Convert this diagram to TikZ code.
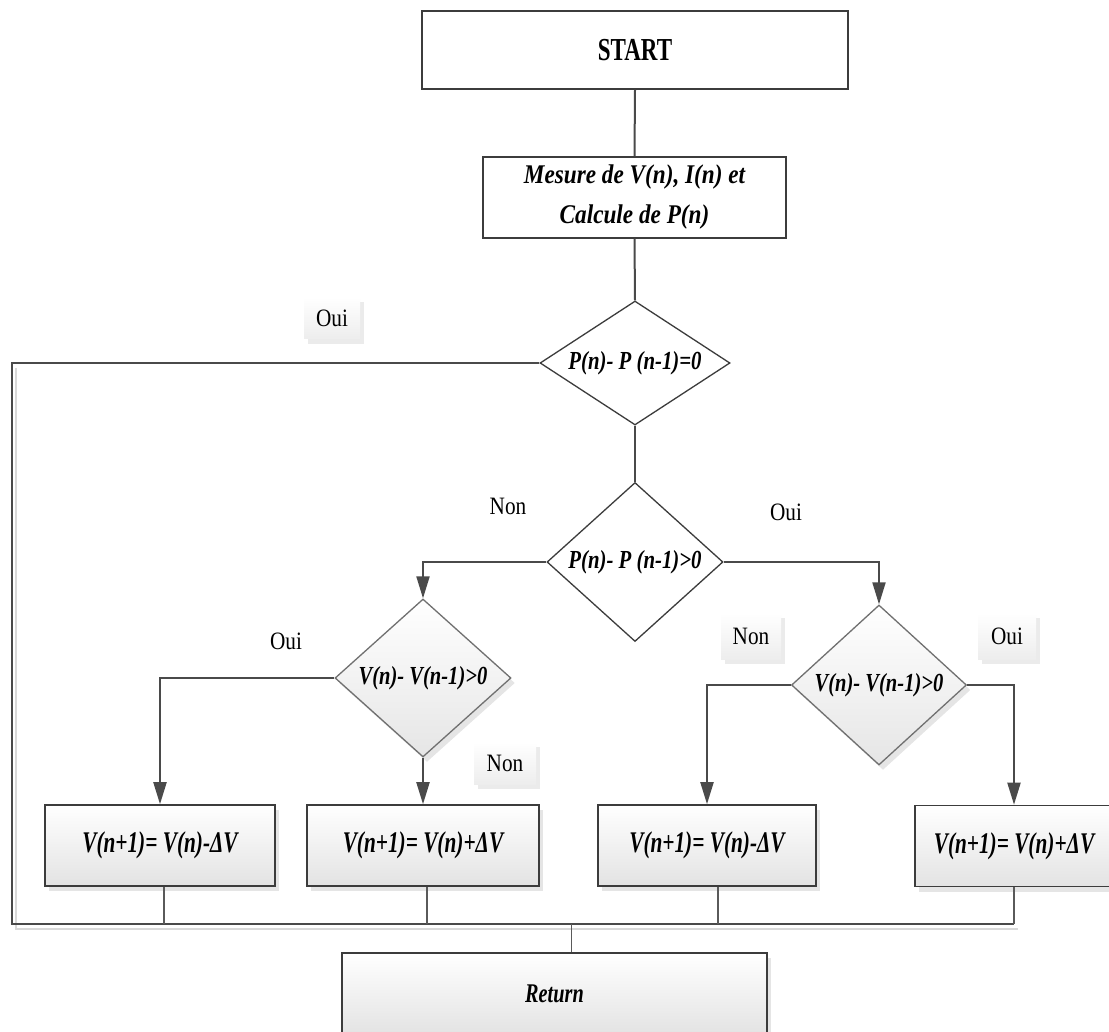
\documentclass[tikz,border=0pt]{standalone}
\usepackage{fontspec}
\setmainfont{Liberation Serif}
\usepackage{graphicx}
\usetikzlibrary{shapes.geometric,arrows.meta,shadows}
\newcommand\sqz[2]{\scalebox{#1}[1]{#2}}
\definecolor{lnc}{HTML}{4A4A4A}
\definecolor{thinc}{HTML}{5A5A5A}
\definecolor{brd}{HTML}{3C3C3C}
\definecolor{dbrd}{HTML}{707070}
\begin{document}
\begin{tikzpicture}[x=1pt,y=-1pt,
  plainbox/.style={draw=brd,line width=1.5pt,fill=white,inner sep=0pt},
  gbox/.style={draw=brd,line width=1.6pt,top color=white,bottom color=black!11,inner sep=0pt,
    drop shadow={shadow xshift=4pt,shadow yshift=-5pt,fill=black,opacity=0.10}},
  wdia/.style={diamond,draw=brd,line width=1.3pt,fill=white,inner sep=0pt},
  gdia/.style={diamond,draw=dbrd,line width=1.3pt,top color=white,bottom color=black!10,inner sep=0pt,
    drop shadow={shadow xshift=4pt,shadow yshift=-5pt,fill=black,opacity=0.10}},
  dtxt/.style={font=\fontsize{26}{30}\selectfont\bfseries\itshape,inner sep=0pt},
  btxt/.style={font=\fontsize{30}{34}\selectfont\bfseries\itshape},
  lbl/.style={font=\fontsize{25}{28}\selectfont,inner sep=0pt},
  lblbox/.style={lbl,top color=white,bottom color=black!7,minimum width=56pt,minimum height=42pt,
    drop shadow={shadow xshift=4pt,shadow yshift=-5pt,fill=black,opacity=0.08}},
  conn/.style={draw=lnc,line width=2pt},
  arr/.style={conn,-{Triangle[width=13pt,length=22pt]}},
  thinln/.style={draw=thinc,line width=1.2pt}]
\fill[white] (0,0) rectangle (1109,1032);
\useasboundingbox (0,0) rectangle (1109,1032);

% nodes
\node[plainbox,minimum width=426pt,minimum height=78pt,font=\fontsize{32}{36}\selectfont\bfseries] (start) at (635,50) {\sqz{0.72}{START}};
\node[plainbox,minimum width=303pt,minimum height=81pt,align=center,font=\fontsize{27}{40}\selectfont\bfseries\itshape] (mes) at (634.5,197.5) {\sqz{0.86}{Mesure de V(n), I(n) et}\\\sqz{0.86}{Calcule de P(n)}};

\node[wdia,minimum width=190pt,minimum height=124pt,label={[dtxt]center:\sqz{0.8}{P(n)- P (n-1)=0}}] (d1) at (635,363) {};
\node[wdia,minimum width=176pt,minimum height=159pt,label={[dtxt]center:\sqz{0.8}{P(n)- P (n-1)>0}}] (d2) at (635,562) {};
\node[gdia,minimum width=176pt,minimum height=158pt,label={[dtxt]center:\sqz{0.79}{V(n)- V(n-1)>0}}] (d3) at (423,678) {};
\node[gdia,minimum width=175pt,minimum height=160pt,label={[dtxt]center:\sqz{0.79}{V(n)- V(n-1)>0}}] (d4) at (879,685) {};

\node[gbox,btxt,minimum width=230pt,minimum height=81pt] (b1) at (160,845.5) {\sqz{0.71}{V(n+1)= V(n)-ΔV}};
\node[gbox,btxt,minimum width=232pt,minimum height=81pt] (b2) at (423,845.5) {\sqz{0.71}{V(n+1)= V(n)+ΔV}};
\node[gbox,btxt,minimum width=218pt,minimum height=81pt] (b3) at (707,845.5) {\sqz{0.71}{V(n+1)= V(n)-ΔV}};
\node[gbox,btxt,minimum width=198pt,minimum height=81pt] (b4) at (1014,846) {\sqz{0.71}{V(n+1)= V(n)+ΔV}};
\node[gbox,minimum width=425pt,minimum height=82pt,font=\fontsize{27}{30}\selectfont\bfseries\itshape] (ret) at (554.5,994) {\sqz{0.75}{Return}};

% labels
\node[lblbox] (l1) at (332,318) {\sqz{0.85}{Oui}};
\node[lbl] (l2) at (508,506) {\sqz{0.85}{Non}};
\node[lbl] (l3) at (786,512) {\sqz{0.85}{Oui}};
\node[lbl] (l4) at (286,641) {\sqz{0.85}{Oui}};
\node[lblbox,minimum width=62pt] (l5) at (505,763) {\sqz{0.85}{Non}};
\node[lblbox,minimum width=60pt,minimum height=46pt] (l6) at (751,636) {\sqz{0.85}{Non}};
\node[lblbox,minimum width=58pt,minimum height=46pt] (l7) at (1007,636) {\sqz{0.85}{Oui}};

% loop and bus
\coordinate (lc) at (12,924);
\coordinate (bend) at (12,363);
\draw[draw=black!15,line width=2pt] ([xshift=4pt,yshift=-5pt]bend) -- ([xshift=4pt,yshift=-5pt]lc) -- ([xshift=4pt,yshift=-5pt]lc -| b4.south);
\draw[conn] (d1.west) -- (bend) -- (lc) -- (lc -| b4.south);

% vertical connectors
\draw[conn] (start.south) -- (mes.north);
\draw[conn] (mes.south) -- (d1.north);
\draw[conn] (d1.south) -- (d2.north);
\draw[arr] (d2.west) -| (d3.north);
\draw[arr] (d2.east) -| (d4.north);
\draw[arr] (d3.west) -| (b1.north);
\draw[arr] (d3.south) -- (b2.north);
\draw[arr] (d4.west) -| (b3.north);
\draw[arr] (d4.east) -| (b4.north);

% boxes to bus
\coordinate (j1) at ([xshift=4pt]b1.south);
\coordinate (j2) at ([xshift=4pt]b2.south);
\coordinate (j3) at ([xshift=11pt]b3.south);
\coordinate (rj) at ([xshift=17pt]ret.north);
\draw[thinln] (j1) -- (j1 |- lc);
\draw[thinln] (j2) -- (j2 |- lc);
\draw[thinln] (j3) -- (j3 |- lc);
\draw[thinln] (b4.south) -- (b4.south |- lc);
\draw[thinln] (rj |- lc) -- (rj);
\end{tikzpicture}
\end{document}
